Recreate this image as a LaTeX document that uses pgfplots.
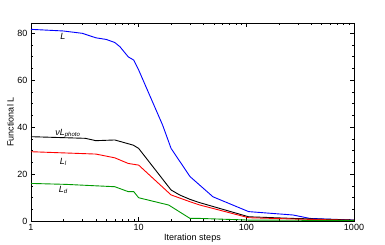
\documentclass[border=0pt]{standalone}
\usepackage{fontspec}
\setmainfont{Liberation Sans}
\usepackage{pgfplots}
\pgfplotsset{compat=1.18}
\begin{document}
\begin{tikzpicture}
\begin{axis}[
  scale only axis, width=323pt, height=198pt,
  xmode=log, xmin=1, xmax=1000, ymin=0, ymax=84.3,
  xtick={1,10,100,1000}, xticklabels={1,10,100,1000},
  ytick={0,20,40,60,80}, minor y tick num=3,
  tick align=inside, tick style={black, line width=0.4pt},
  major tick length=4pt, minor tick length=2.5pt,
  /pgf/number format/assume math mode=true,
  tick label style={font=\fontsize{9}{10}\selectfont},
  xlabel={Iteration steps}, ylabel={Functional L},
  label style={font=\fontsize{9}{10}\selectfont},
  xlabel style={yshift=4pt}, ylabel style={yshift=-3pt},
  axis line style={line width=0.5pt},
  every axis plot/.append style={line width=0.9pt},
]
\addplot[blue] coordinates {(1,81.6)(2,80.9)(3,79.9)(4,78)(5,77.3)(6,76)(6.7,74.2)(8,69.9)(9,68.5)(10,64.3)(16.7,40.8)(20,30.9)(30,18.9)(49,10.3)(105,4.0)(272,2.55)(390,1.1)(1000,0.4)};
\addplot[black] coordinates {(1,35.9)(3.2,35.2)(4,34.2)(6,34.5)(8.9,32.3)(10,30.9)(20,13.2)(24,11.1)(30,9.2)(37,7.8)(105,1.8)(272,1.1)(1000,0.4)};
\addplot[red] coordinates {(1,29.5)(4,28.5)(6,26.9)(8,24.5)(10,23.8)(20,11.1)(30,8.2)(37,6.8)(105,1.4)(272,0.85)(1000,0.3)};
\addplot[green!60!black] coordinates {(1,16.0)(2.1,15.6)(6,14.6)(8,12.5)(9,12.5)(10,9.9)(19,6.8)(30,1.1)(37,1.1)(105,0.4)(1000,0.2)};
\node[font=\fontsize{9}{10}\selectfont] at (axis cs:1.98,78.4) {\textit{L}};
\node[font=\fontsize{9}{10}\selectfont] at (axis cs:2.2,37.4) {\textit{νL}\textsubscript{\textit{photo}}};
\node[font=\fontsize{9}{10}\selectfont] at (axis cs:2,25.3) {\textit{L}\textsubscript{\textit{l}}};
\node[font=\fontsize{9}{10}\selectfont] at (axis cs:2,13.2) {\textit{L}\textsubscript{\textit{d}}};
\end{axis}
\pgfresetboundingbox
\path (-31pt,-23pt) rectangle (354pt,221pt);
\end{tikzpicture}
\end{document}
